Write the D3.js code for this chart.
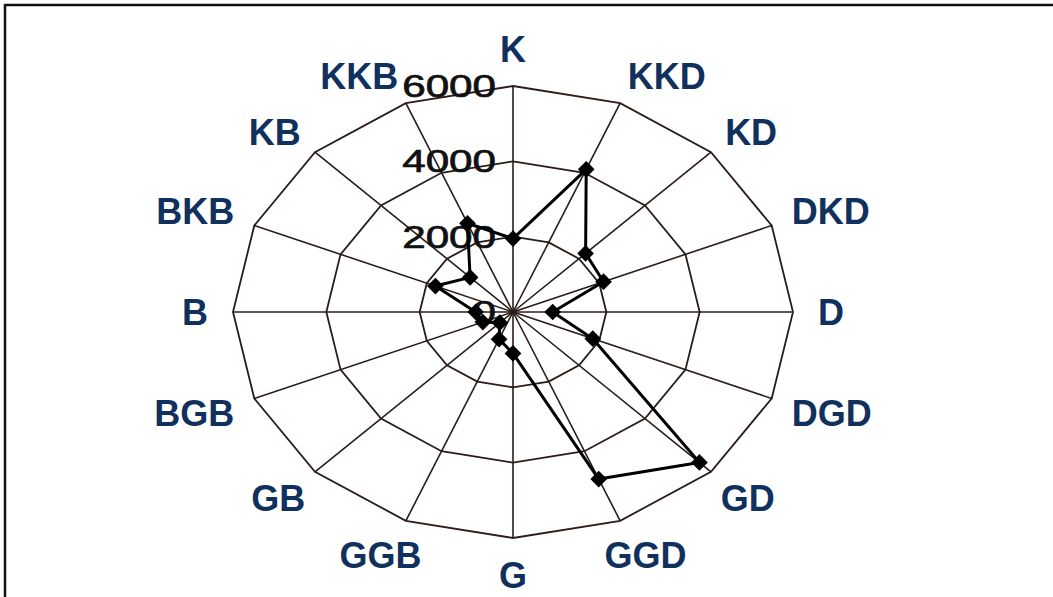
<!DOCTYPE html>
<html>
<head>
<meta charset="utf-8">
<script src="https://cdn.jsdelivr.net/npm/d3@7/dist/d3.min.js"></script>
<style>
  html, body { margin: 0; padding: 0; background: #ffffff; }
  svg { display: block; }
</style>
</head>
<body>
<svg id="chart" width="1053" height="597"></svg>
<script>
// ---- data ----
const directions = ["K","KKD","KD","DKD","D","DGD","GD","GGD","G","GGB","GB","BGB","B","BKB","KB","KKB"];
const values = [1950, 4100, 2200, 2100, 850, 1850, 5650, 4800, 1100, 780, 400, 700, 800, 1800, 1300, 2550];
const ringValues = [2000, 4000, 6000];
const tickLabels = ["0", "2000", "4000", "6000"];
const tickValues = [0, 2000, 4000, 6000];

// ---- layout ----
const W = 1053, H = 597;
const cx = 513, cy = 312;
const rxMax = 280, ryMax = 226;
const maxV = 6000;

const svg = d3.select("#chart");

// frame (top and left edges)
svg.append("line").attr("x1", 4).attr("y1", 5).attr("x2", W).attr("y2", 5)
  .attr("stroke", "#111").attr("stroke-width", 2.5);
svg.append("line").attr("x1", 5).attr("y1", 4).attr("x2", 5).attr("y2", H)
  .attr("stroke", "#111").attr("stroke-width", 2.5);

const angle = d3.scalePoint().domain(directions).range([0, 2 * Math.PI * (directions.length - 1) / directions.length]);
const rX = d3.scaleLinear().domain([0, maxV]).range([0, rxMax]);
const rY = d3.scaleLinear().domain([0, maxV]).range([0, ryMax]);

function pt(dir, v) {
  const a = angle(dir);
  return [cx + rX(v) * Math.sin(a), cy - rY(v) * Math.cos(a)];
}

const g = svg.append("g");
const gridColor = "#2a1c18";

// rings
const ringLine = d3.line().curve(d3.curveLinearClosed);
ringValues.forEach(rv => {
  g.append("path")
    .attr("d", ringLine(directions.map(d => pt(d, rv))))
    .attr("fill", "none")
    .attr("stroke", gridColor)
    .attr("stroke-width", 1.8);
});

// spokes
directions.forEach(d => {
  const [x, y] = pt(d, maxV);
  g.append("line")
    .attr("x1", cx).attr("y1", cy).attr("x2", x).attr("y2", y)
    .attr("stroke", gridColor)
    .attr("stroke-width", 1.6);
});

// tick labels along the K axis
tickValues.forEach((tv, i) => {
  const y = cy - rY(tv);
  g.append("text")
    .attr("transform", `translate(${cx - 17},${y}) scale(1.36,1)`)
    .attr("text-anchor", "end")
    .attr("dy", "0.36em")
    .attr("font-family", "'Liberation Sans', Arial, sans-serif")
    .attr("font-size", 31)
    .attr("fill", "#111")
    .attr("stroke", "#111")
    .attr("stroke-width", 0.7)
    .text(tickLabels[i]);
});

// data polygon
const dataLine = d3.line().curve(d3.curveLinearClosed);
g.append("path")
  .attr("d", dataLine(directions.map((d, i) => pt(d, values[i]))))
  .attr("fill", "none")
  .attr("stroke", "#000")
  .attr("stroke-width", 3)
  .attr("stroke-linejoin", "round");

// markers
const sym = d3.symbol().type(d3.symbolSquare).size(140);
directions.forEach((d, i) => {
  const [x, y] = pt(d, values[i]);
  g.append("path")
    .attr("d", sym())
    .attr("transform", `translate(${x},${y}) rotate(45)`)
    .attr("fill", "#000");
});

// direction labels: box pushed outward from an anchor ellipse
directions.forEach(d => {
  const a = angle(d);
  const s = Math.sin(a), c = Math.cos(a);
  const t = g.append("text")
    .attr("text-anchor", "middle")
    .attr("font-family", "'Liberation Sans', Arial, sans-serif")
    .attr("font-weight", "bold")
    .attr("font-size", 36)
    .attr("fill", "#10305e")
    .text(d);
  const bb = t.node().getBBox();
  const hw = bb.width / 2, hh = 13;
  const upper = c > 0.5;
  const side = Math.abs(s) > 0.01;
  const labRx = upper ? 300 : 305;
  const labRy = (upper && side) ? 242 : 250;
  const f = upper ? Math.sign(Math.round(s * 100)) : s;
  const x = cx + labRx * s + hw * f;
  const y = cy - labRy * c - hh * c;
  t.attr("x", x).attr("y", y).attr("dy", "0.36em");
});
</script>
</body>
</html>
